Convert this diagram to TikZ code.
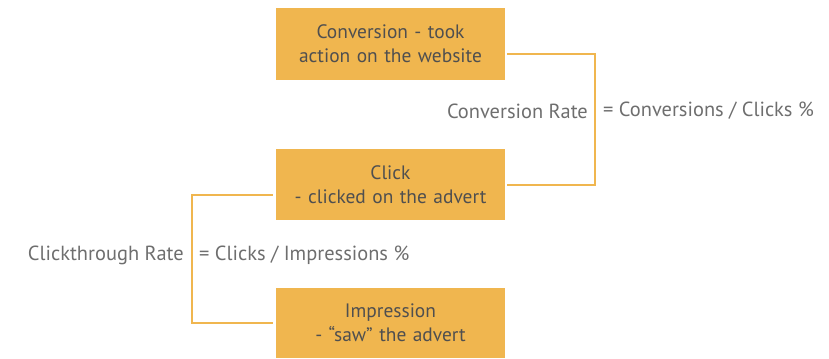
\documentclass[tikz,border=0pt]{standalone}
\usepackage{fontspec}
\setmainfont{PT Sans}
\usetikzlibrary{calc}
\definecolor{boxor}{HTML}{F0B64F}
\definecolor{boxtxt}{HTML}{4F4F4F}
\definecolor{lbltxt}{HTML}{6E6E6E}
\begin{document}
\begin{tikzpicture}[x=1bp,y=1bp,
  stagebox/.style={fill=boxor,draw=none,minimum width=229bp,text width=225bp,align=center,text=boxtxt,font=\fontsize{19.5}{24}\selectfont,inner sep=0pt},
  conn/.style={draw=boxor,line width=2bp},
  lbl/.style={text=lbltxt,font=\fontsize{20.5}{24}\selectfont,inner sep=0pt}]
\useasboundingbox (0,0) rectangle (829,358);
\node[stagebox,minimum height=72bp] (conv) at (390.5,314) {Conversion - took\\action on the website};
\node[stagebox,minimum height=71bp] (click) at (390.5,173.5) {Click\\- clicked on the advert};
\node[stagebox,minimum height=70bp] (imp) at (390.5,35) {Impression\\- “saw” the advert};
\coordinate (r1) at ($(conv.east)+(2,-10)$);
\coordinate (r2) at ($(click.east)+(2,0)$);
\draw[conn] (r1) -| (595,0 |- r1) coordinate (rc1) -- (rc1 |- r2) -- (r2);
\coordinate (l1) at ($(click.west)+(-3,-10)$);
\coordinate (l2) at ($(imp.west)+(-3,0)$);
\draw[conn] (l1) -- (192,0 |- l1) coordinate (lc1) -- (lc1 |- l2) -- (l2);
\node[lbl,anchor=east] (crate) at (588,247) {Conversion Rate};
\node[lbl,anchor=west] (cform) at (603,247) {= Conversions / Clicks \%};
\node[lbl,anchor=east] (ctr) at (184,103) {Clickthrough Rate};
\node[lbl,anchor=west] (ctrf) at (199,103) {= Clicks / Impressions \%};
\end{tikzpicture}
\end{document}
